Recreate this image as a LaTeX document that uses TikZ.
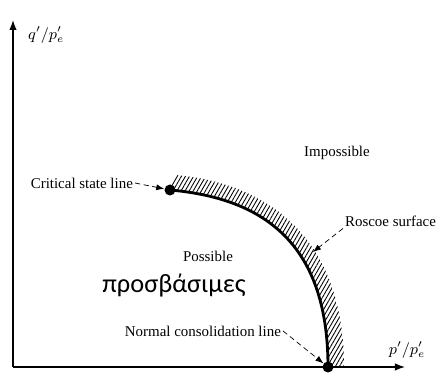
\documentclass[tikz,border=0pt]{standalone}
\usepackage{fontspec}
\setmainfont{Liberation Serif}
\newfontfamily\griego{Carlito}
\usetikzlibrary{arrows.meta, patterns.meta, positioning}

\tikzset{
  etiqueta/.style={font=\fontsize{8.5}{10}\selectfont, inner sep=1pt},
  punto/.style={circle, fill=black, inner sep=0pt, minimum size=2.2mm},
  flechita/.style={-{Latex[length=1.6mm,width=1.2mm]}, densely dashed, thin},
}

\begin{document}
\begin{tikzpicture}
  \useasboundingbox (-0.26,-0.36) rectangle (8.56,7.34);

  % Ejes
  \coordinate (O) at (0,0);
  \coordinate (xfin) at (7.84,0);
  \coordinate (yfin) at (0,6.94);
  \draw[-{Latex[length=2mm]}, thick] (O) -- (xfin);
  \draw[-{Latex[length=2mm]}, thick] (O) -- (yfin);
  \node[anchor=west, font=\small] (ylab) at (0.18,6.64) {$q'/p'_e$};
  \node[font=\small] (xlab) at (7.88,0.34) {$p'/p'_e$};

  % Banda rayada por fuera de la superficie
  \fill[pattern={Lines[angle=60,distance=2pt,line width=0.5pt]}]
    (3.14,3.54) .. controls (4.94,3.38) and (6.30,2.54) .. (6.30,0)
    -- (6.62,0) .. controls (6.62,2.64) and (5.04,3.68) .. (3.26,3.84) -- cycle;

  % Superficie de Roscoe
  \draw[line width=1.6pt] (3.14,3.54) .. controls (4.94,3.38) and (6.30,2.54) .. (6.30,0);
  \node[punto] (csl) at (3.14,3.54) {};
  \node[punto] (ncl) at (6.30,0) {};

  % Etiquetas y flechas
  \node[etiqueta, anchor=east] (cslt) at (2.44,3.68) {Critical state line};
  \draw[flechita] (cslt.east) -- (csl);

  \node[etiqueta] (imp) at (6.48,4.28) {Impossible};

  \node[etiqueta, anchor=west] (ros) at (6.6,2.92) {Roscoe surface};
  \coordinate (rosp) at (6.0,2.3);
  \draw[flechita] (ros.south west) -- (rosp);

  \node[etiqueta] (pos) at (3.9,2.22) {Possible};
  \node[font=\griego\fontsize{15}{18}\selectfont] (gr) at (3.22,1.64) {προσβάσιμες};

  \node[etiqueta, anchor=east] (nclt) at (5.4,0.72) {Normal consolidation line};
  \draw[flechita] (nclt.east) -- (ncl);
\end{tikzpicture}
\end{document}
